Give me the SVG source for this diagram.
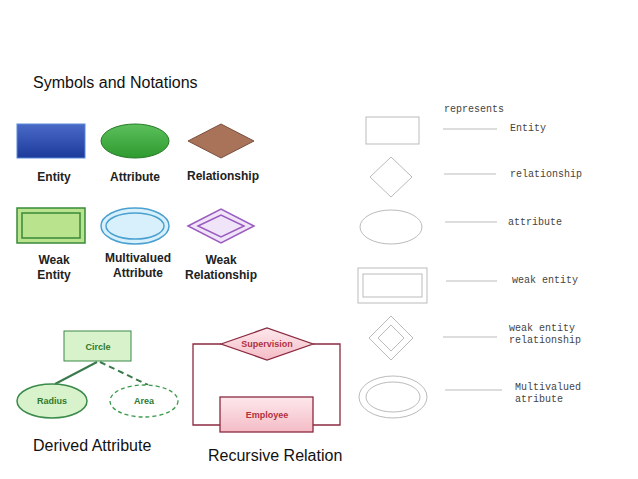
<svg xmlns="http://www.w3.org/2000/svg" width="638" height="479" viewBox="0 0 638 479">
<defs>
<linearGradient id="gb" x1="0" y1="0" x2="0" y2="1"><stop offset="0" stop-color="#4a6ac8"/><stop offset="1" stop-color="#1c3a9a"/></linearGradient>
<linearGradient id="gg" x1="0" y1="0" x2="0" y2="1"><stop offset="0" stop-color="#5cc05c"/><stop offset="1" stop-color="#2e9a2e"/></linearGradient>
<linearGradient id="gr" x1="0" y1="0" x2="0" y2="1"><stop offset="0" stop-color="#fde8ec"/><stop offset="1" stop-color="#f4bcc6"/></linearGradient>
</defs>
<style>
.lbl{font-family:"Liberation Sans",Arial,sans-serif;font-weight:bold;font-size:12px;fill:#222;text-anchor:middle}
.big{font-family:"Liberation Sans",Arial,sans-serif;font-size:16px;fill:#111}
.mono{font-family:"Liberation Mono","Courier New",monospace;font-size:10px;fill:#444}
.gs{fill:none;stroke:#bbb;stroke-width:1}
.gl{stroke:#bbb;stroke-width:1}
.gt{font-family:"Liberation Sans",Arial,sans-serif;font-weight:bold;font-size:9px;fill:#2e7a2e;text-anchor:middle}
.rt{font-family:"Liberation Sans",Arial,sans-serif;font-weight:bold;font-size:9px;fill:#b03040;text-anchor:middle}
</style>
<rect width="638" height="479" fill="#fff"/>
<text class="big" x="33" y="88">Symbols and Notations</text>
<g id="entity"><rect x="17" y="124" width="68" height="34" fill="url(#gb)" stroke="#5a8ad8"/><text class="lbl" x="54" y="181">Entity</text></g>
<g id="attribute"><ellipse cx="135" cy="141" rx="34" ry="17" fill="url(#gg)" stroke="#2a7a2a"/><text class="lbl" x="135" y="181">Attribute</text></g>
<g id="relationship"><polygon points="188,141 221,124 254,141 221,158" fill="#a87358" stroke="#7a5040"/><text class="lbl" x="223" y="180">Relationship</text></g>
<g id="weak-entity"><rect x="17" y="208" width="68" height="35" fill="#b9e38c" stroke="#3a8a3a" stroke-width="1.5"/><rect x="22" y="213" width="58" height="25" fill="none" stroke="#3a8a3a" stroke-width="1.5"/><text class="lbl" x="54" y="264">Weak</text><text class="lbl" x="54" y="279">Entity</text></g>
<g id="multivalued"><ellipse cx="135" cy="226" rx="34" ry="18" fill="#d8f0fc" stroke="#4aa0d0" stroke-width="1.5"/><ellipse cx="135" cy="226" rx="29" ry="13" fill="none" stroke="#4aa0d0" stroke-width="1.5"/><text class="lbl" x="138" y="262">Multivalued</text><text class="lbl" x="138" y="277">Attribute</text></g>
<g id="weak-relationship"><polygon points="188,226 221,209 254,226 221,243" fill="#f0e4f8" stroke="#9a5ac0" stroke-width="1.5"/><polygon points="198,226 221,215 244,226 221,237" fill="none" stroke="#9a5ac0" stroke-width="1.5"/><text class="lbl" x="221" y="264">Weak</text><text class="lbl" x="221" y="279">Relationship</text></g>
<g id="connectors">
<line x1="97" y1="362" x2="55" y2="384" stroke="#3a7a4a" stroke-width="2"/>
<line x1="100" y1="362" x2="148" y2="385" stroke="#3a7a4a" stroke-width="2" stroke-dasharray="6,4"/>
<polyline points="221,344 193,344 193,425 220,425" fill="none" stroke="#8a2a40" stroke-width="1.3"/>
<polyline points="313,344 340,344 340,425 313,425" fill="none" stroke="#8a2a40" stroke-width="1.3"/>
<line class="gl" x1="443" y1="129" x2="497" y2="129"/>
<line class="gl" x1="444" y1="174" x2="496" y2="174"/>
<line class="gl" x1="445" y1="222" x2="497" y2="222"/>
<line class="gl" x1="446" y1="281" x2="497" y2="281"/>
<line class="gl" x1="443" y1="337" x2="497" y2="337"/>
<line class="gl" x1="445" y1="390" x2="502" y2="390"/>
</g>
<g id="circle"><rect x="64" y="331" width="67" height="30" fill="#d8f2cc" stroke="#3a8a4a"/><text class="gt" x="98" y="350">Circle</text></g>
<g id="radius"><ellipse cx="52" cy="401" rx="35" ry="17" fill="#d8f2cc" stroke="#3a8a4a" stroke-width="1.5"/><text class="gt" x="52" y="404">Radius</text></g>
<g id="area"><ellipse cx="144" cy="401" rx="34" ry="16" fill="#fff" stroke="#3a9a4a" stroke-width="1.3" stroke-dasharray="4,3"/><text class="gt" x="144" y="404">Area</text></g>
<g id="supervision"><polygon points="221,344 267,328 313,344 267,360" fill="url(#gr)" stroke="#8a2a40" stroke-width="1.3"/><text class="rt" x="267" y="347">Supervision</text></g>
<g id="employee"><rect x="220" y="397" width="93" height="35" fill="url(#gr)" stroke="#8a2a40" stroke-width="1.3"/><text class="rt" x="267" y="418">Employee</text></g>
<text class="big" x="33" y="451">Derived Attribute</text>
<text class="big" x="208" y="461">Recursive Relation</text>
<text class="mono" x="444" y="112">represents</text>
<g id="r-entity"><rect class="gs" x="366" y="117" width="53" height="27"/><text class="mono" x="510" y="131">Entity</text></g>
<g id="r-relationship"><polygon class="gs" points="370,177 391,157 412,177 391,197"/><text class="mono" x="510" y="177">relationship</text></g>
<g id="r-attribute"><ellipse class="gs" cx="391" cy="227" rx="31" ry="17"/><text class="mono" x="508" y="225">attribute</text></g>
<g id="r-weak-entity"><rect class="gs" x="358" y="268" width="69" height="35"/><rect class="gs" x="363" y="274" width="59" height="23"/><text class="mono" x="512" y="283">weak entity</text></g>
<g id="r-weak-rel"><polygon class="gs" points="369,338 391,316 413,338 391,360"/><polygon class="gs" points="378,338 391,325 404,338 391,351"/><text class="mono" x="509" y="331">weak entity</text><text class="mono" x="509" y="343">relationship</text></g>
<g id="r-multivalued"><ellipse class="gs" cx="393" cy="397" rx="34" ry="21"/><ellipse class="gs" cx="393" cy="397" rx="27" ry="15"/><text class="mono" x="515" y="390">Multivalued</text><text class="mono" x="515" y="402">atribute</text></g>
</svg>
